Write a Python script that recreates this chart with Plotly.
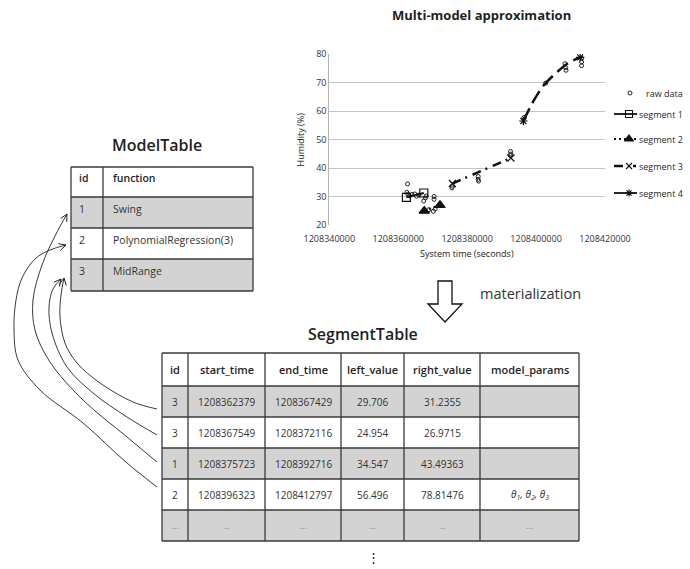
import plotly.graph_objects as go

W, H = 690, 569
FONT = "Open Sans"
INK = "#1f1f1f"

# ---- raw sensor readings (time in seconds, humidity in %) ----
raw_time = [
    1208362700, 1208362500, 1208362800, 1208363300, 1208364000, 1208364800,
    1208365300, 1208366000, 1208367400, 1208367900, 1208368100, 1208370400,
    1208370400, 1208370200, 1208370700, 1208368900, 1208375700, 1208375600,
    1208383200, 1208383200, 1208383300, 1208392600, 1208392700, 1208392500,
    1208396500, 1208402800, 1208408400, 1208408600, 1208408700, 1208413200,
    1208413200, 1208413200,
]
raw_humidity = [
    34.4, 31.5, 30.8, 30.2, 30.7, 30.9,
    30.1, 30.5, 28.4, 29.5, 30.2, 30.0,
    29.0, 24.8, 25.6, 25.4, 33.6, 33.0,
    37.0, 36.0, 35.4, 45.8, 44.9, 44.4,
    57.7, 69.8, 76.6, 75.2, 74.3, 78.5,
    77.2, 75.9,
]

# ---- SegmentTable rows ----
seg_model_id = [3, 3, 1, 2]
seg_start = [1208362379, 1208367549, 1208375723, 1208396323]
seg_end = [1208367429, 1208372116, 1208392716, 1208412797]
seg_left = [29.706, 24.954, 34.547, 56.496]
seg_right = [31.2355, 26.9715, 43.49363, 78.81476]
seg_params = ["", "", "", "<i>θ<sub>1</sub>, θ<sub>2</sub>, θ<sub>3</sub></i>"]
seg_headers = ["id", "start_time", "end_time", "left_value", "right_value", "model_params"]

# interior points of the fitted cubic (segment 4)
poly_time = [1208399400, 1208402300, 1208406700, 1208409400]
poly_humidity = [63.8, 69.1, 74.3, 76.9]

# ---- ModelTable rows ----
model_ids = [1, 2, 3]
model_functions = ["Swing", "PolynomialRegression(3)", "MidRange"]

x_ticks = [1208340000, 1208360000, 1208380000, 1208400000, 1208420000]
y_ticks = [20, 30, 40, 50, 60, 70, 80]

seg_names = ["segment 1", "segment 2", "segment 3", "segment 4"]
seg_style = [
    dict(symbol="square-open", size=8, dash="solid", width=2),
    dict(symbol="triangle-up", size=9, dash="2px,3px", width=2),
    dict(symbol="x-thin-open", size=7, dash="9px,5px,2px,6px", width=2.5),
    dict(symbol="asterisk-open", size=7, dash="14px,6px", width=2.5),
]

fig = go.Figure()

# ---- chart: raw data ----
fig.add_trace(go.Scatter(
    x=raw_time, y=raw_humidity, mode="markers", xaxis="x", yaxis="y",
    marker=dict(symbol="circle-open", size=4, color="#222", line=dict(width=1)),
    showlegend=False, hoverinfo="skip"))

# ---- chart: segments ----
for i in range(4):
    st = seg_style[i]
    mk = dict(symbol=st["symbol"], size=st["size"], color="#111", line=dict(width=1.2, color="#111"))
    if i == 3:
        xs = [seg_start[i]] + poly_time + [seg_end[i]]
        ys = [seg_left[i]] + poly_humidity + [seg_right[i]]
        fig.add_trace(go.Scatter(
            x=xs, y=ys, mode="lines", xaxis="x", yaxis="y",
            line=dict(color="#111", width=st["width"], dash=st["dash"], shape="spline"),
            showlegend=False, hoverinfo="skip"))
        fig.add_trace(go.Scatter(
            x=[seg_start[i], seg_end[i]], y=[seg_left[i], seg_right[i]],
            mode="markers", xaxis="x", yaxis="y", marker=mk,
            showlegend=False, hoverinfo="skip"))
    else:
        fig.add_trace(go.Scatter(
            x=[seg_start[i], seg_end[i]], y=[seg_left[i], seg_right[i]],
            mode="lines+markers", xaxis="x", yaxis="y",
            line=dict(color="#111", width=st["width"], dash=st["dash"]), marker=mk,
            showlegend=False, hoverinfo="skip"))

shapes = []
annotations = []


def text(x, y, s, size=10, color=INK, xanchor="center", weight="normal", family=FONT):
    annotations.append(dict(
        x=x, y=y, xref="x2", yref="y2", text=s, showarrow=False,
        xanchor=xanchor, yanchor="middle", borderpad=0,
        font=dict(family=family, size=size, color=color, weight=weight)))


def line(x0, y0, x1, y1, color="#3a3a3a", width=1.3, dash="solid"):
    shapes.append(dict(type="line", xref="x2", yref="y2", x0=x0, y0=y0, x1=x1, y1=y1,
                       line=dict(color=color, width=width, dash=dash), layer="above"))


def rect(x0, y0, x1, y1, fill):
    shapes.append(dict(type="rect", xref="x2", yref="y2", x0=x0, y0=y0, x1=x1, y1=y1,
                       fillcolor=fill, line=dict(width=0), layer="above"))


GRAY = "#d3d3d3"

# ---- chart title, axis titles ----
text(481, 15, "Multi-model approximation", size=13, weight="bold")
text(467, 253, "System time (seconds)", size=9, color="#222")
annotations.append(dict(x=300, y=139.5, xref="x2", yref="y2", text="Humidity (%)", showarrow=False,
                        textangle=-90, xanchor="center", yanchor="middle",
                        font=dict(family=FONT, size=9, color="#222")))

# ---- legend ----
leg_y = [93, 114, 139, 166, 193]
fig.add_trace(go.Scatter(x=[630], y=[leg_y[0]], mode="markers", xaxis="x2", yaxis="y2",
                         marker=dict(symbol="circle-open", size=4, color="#222", line=dict(width=1)),
                         showlegend=False, hoverinfo="skip"))
text(645, leg_y[0], "raw data", size=9, xanchor="left")
for i in range(4):
    st = seg_style[i]
    yv = leg_y[i + 1]
    if i == 0 or i == 3:
        line(614, yv, 637, yv, color="#111", width=1.8)
    elif i == 1:
        line(614, yv, 637, yv, color="#111", width=2, dash="2px,3px")
    else:
        line(614, yv, 623, yv, color="#111", width=2.5)
        line(633, yv, 636, yv, color="#111", width=2.5)
    fig.add_trace(go.Scatter(x=[629], y=[yv], mode="markers", xaxis="x2", yaxis="y2",
                             marker=dict(symbol=st["symbol"], size=st["size"] - 1, color="#111",
                                         line=dict(width=1.1, color="#111")),
                             showlegend=False, hoverinfo="skip"))
    text(638, yv, seg_names[i], size=9, xanchor="left")

# ---- ModelTable ----
text(157, 145, "ModelTable", size=16, weight=600)
m_cols = [71, 103, 253]
m_rows = [167, 197, 228, 259, 291]
for r in range(4):
    if r % 2 == 1:
        rect(m_cols[0], m_rows[r], m_cols[-1], m_rows[r + 1], GRAY)
for yv in m_rows:
    line(m_cols[0], yv, m_cols[-1], yv)
for xv in m_cols:
    line(xv, m_rows[0], xv, m_rows[-1])
text(m_cols[0] + 7, (m_rows[0] + m_rows[1]) / 2 - 4, "id", size=10.5, xanchor="left", weight=600)
text(m_cols[1] + 9, (m_rows[0] + m_rows[1]) / 2 - 4, "function", size=10.5, xanchor="left", weight=600)
for r in range(3):
    yc = (m_rows[r + 1] + m_rows[r + 2]) / 2 - 4
    text(m_cols[0] + 7, yc, str(model_ids[r]), size=10.5, xanchor="left", color="#333")
    text(m_cols[1] + 9, yc, model_functions[r], size=10.5, xanchor="left", color="#333")

# ---- SegmentTable ----
text(363, 334, "SegmentTable", size=16, weight=600)
s_cols = [162, 188, 265, 341, 404, 480, 579]
s_rows = [353, 386, 417, 448, 479, 510, 541]
for r in range(6):
    if r % 2 == 1:
        rect(s_cols[0], s_rows[r], s_cols[-1], s_rows[r + 1], GRAY)
for yv in s_rows:
    line(s_cols[0], yv, s_cols[-1], yv)
for xv in s_cols:
    line(xv, s_rows[0], xv, s_rows[-1])


def col_center(c):
    return (s_cols[c] + s_cols[c + 1]) / 2


for c, h in enumerate(seg_headers):
    text(col_center(c), (s_rows[0] + s_rows[1]) / 2, h, size=11, weight=600)
for r in range(4):
    yc = (s_rows[r + 1] + s_rows[r + 2]) / 2
    row = [seg_model_id[r], seg_start[r], seg_end[r], seg_left[r], seg_right[r]]
    for c, v in enumerate(row):
        text(col_center(c), yc, str(v), size=10, color="#333")
    if seg_params[r]:
        text(col_center(5), yc, seg_params[r], size=10, color="#333")
yc = (s_rows[5] + s_rows[6]) / 2
for c in range(6):
    text(col_center(c), yc, "…", size=9, color="#888")
text(373, 557, "⋮", size=13, color="#222")

# ---- materialization arrow ----
shapes.append(dict(type="path", xref="x2", yref="y2",
                   path="M 438 281 L 452 281 L 452 304 L 462 304 L 445 322 L 428 304 L 438 304 Z",
                   fillcolor="white", line=dict(color="#111", width=1.3), layer="above"))
text(479, 293, "materialization", size=14.5, xanchor="left", color="#333")

# ---- foreign-key arrows (SegmentTable.id -> ModelTable.id) ----
links = [
    [(157, 409), (133, 402), (100, 383), (77, 363), (65, 343), (60, 317), (61, 295), (64, 278)],
    [(157, 435), (127, 417), (93, 393), (67, 367), (52, 333), (49, 307), (53, 289), (61, 279)],
    [(157, 462), (127, 437), (83, 400), (50, 362), (35, 330), (33, 300), (42, 265), (55, 236), (67, 214)],
    [(157, 487), (127, 463), (83, 423), (40, 390), (18, 360), (14, 330), (16, 300), (22, 278),
     (35, 259), (50, 250), (66, 245)],
]
for pts in links:
    fig.add_trace(go.Scatter(
        x=[p[0] for p in pts], y=[p[1] for p in pts], mode="lines", xaxis="x2", yaxis="y2",
        line=dict(color="#222", width=0.9, shape="spline", smoothing=1.0),
        showlegend=False, hoverinfo="skip"))
    (ax, ay), (tx, ty) = pts[-2], pts[-1]
    dx, dy = tx - ax, ty - ay
    n = (dx * dx + dy * dy) ** 0.5
    ux, uy = dx / n, dy / n
    L, Wd = 7, 3.5
    bx, by = tx - L * ux, ty - L * uy
    w1 = (bx - Wd * uy, by + Wd * ux)
    w2 = (bx + Wd * uy, by - Wd * ux)
    shapes.append(dict(type="path", xref="x2", yref="y2",
                       path=f"M {w1[0]:.2f} {w1[1]:.2f} L {tx} {ty} L {w2[0]:.2f} {w2[1]:.2f}",
                       line=dict(color="#222", width=1), layer="above"))

fig.update_layout(
    width=W, height=H, autosize=False,
    margin=dict(l=0, r=0, t=0, b=0, pad=0, autoexpand=False),
    paper_bgcolor="white", plot_bgcolor="rgba(0,0,0,0)",
    font=dict(family=FONT, color=INK),
    xaxis=dict(domain=[329.3 / W, 605 / W], range=[x_ticks[0], x_ticks[-1]], anchor="y",
               tickvals=x_ticks, ticktext=[str(t) for t in x_ticks], showgrid=False,
               zeroline=False, showline=False, ticks="", ticklabelstandoff=7, automargin=False,
               tickfont=dict(family=FONT, size=9, color="#333")),
    yaxis=dict(domain=[1 - 225 / H, 1 - 54 / H], range=[y_ticks[0], y_ticks[-1]], anchor="x",
               tickvals=y_ticks, showgrid=True, gridcolor="#c4c4c4", gridwidth=1, automargin=False,
               showline=True, linecolor="#b5b5b5", linewidth=1, zeroline=False, ticks="",
               tickfont=dict(family=FONT, size=9, color="#333")),
    xaxis2=dict(domain=[0, 1], range=[0, W], anchor="y2", visible=False, fixedrange=True,
                automargin=False),
    yaxis2=dict(domain=[0, 1], range=[H, 0], anchor="x2", visible=False, fixedrange=True,
                automargin=False),
    shapes=shapes, annotations=annotations, showlegend=False,
)

fig.write_html("out.html")
